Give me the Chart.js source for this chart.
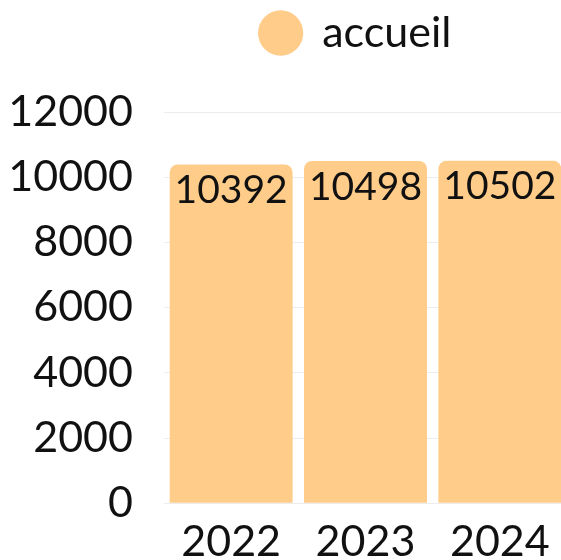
<!DOCTYPE html>
<html>
<head>
<meta charset="utf-8">
<script src="https://cdn.jsdelivr.net/npm/chart.js@4.4.1/dist/chart.umd.min.js"></script>
<style>
  html, body { margin: 0; padding: 0; background: #ffffff; overflow: hidden; }
  #wrap { width: 561px; height: 560px; overflow: hidden; position: relative; }
  canvas { display: block; }
</style>
</head>
<body>
<div id="wrap"><canvas id="c" width="712" height="560"></canvas></div>
<script>
// ---- data ----
const categories = ['2022', '2023', '2024'];
const accueilValues = [10392, 10498, 10502];
const seriesLabel = 'accueil';
const yMin = 0;
const yMax = 12000;
const yStep = 2000;

const barColor = 'rgb(255, 204, 137)';
const textColor = '#111111';
const FONT = 'Lato';
const TICK_FS = 43;
const LEGEND_FS = 43;
const LABEL_FS = 39;

const legendSpacing = {
  id: 'legendSpacing',
  beforeInit(chart) {
    const orig = chart.legend.fit;
    chart.legend.fit = function () {
      orig.call(this);
      this.height += 47.5;
    };
  }
};

const barLabels = {
  id: 'barLabels',
  afterDatasetsDraw(chart) {
    const ctx = chart.ctx;
    const meta = chart.getDatasetMeta(0);
    const values = chart.data.datasets[0].data;
    ctx.save();
    ctx.font = LABEL_FS + 'px ' + FONT;
    ctx.fillStyle = textColor;
    ctx.textAlign = 'center';
    ctx.textBaseline = 'middle';
    meta.data.forEach((bar, i) => {
      ctx.fillText(String(values[i]), bar.x, bar.y + 26);
    });
    ctx.restore();
  }
};

function draw() {
  Chart.defaults.font.family = FONT;
  Chart.defaults.font.size = TICK_FS;
  Chart.defaults.color = textColor;
  new Chart(document.getElementById('c'), {
    type: 'bar',
    data: {
      labels: categories,
      datasets: [{
        label: seriesLabel,
        data: accueilValues,
        backgroundColor: barColor,
        borderWidth: 0,
        borderRadius: { topLeft: 8, topRight: 8, bottomLeft: 0, bottomRight: 0 },
        borderSkipped: 'start',
        barPercentage: 0.915,
        categoryPercentage: 1.0
      }]
    },
    options: {
      responsive: false,
      animation: false,
      devicePixelRatio: 1,
      layout: { padding: 0 },
      plugins: {
        legend: {
          display: true,
          position: 'top',
          labels: {
            usePointStyle: true,
            pointStyle: 'circle',
            boxHeight: 32,
            padding: 11.5,
            color: textColor,
            font: { family: FONT, size: LEGEND_FS }
          }
        },
        tooltip: { enabled: false }
      },
      scales: {
        x: {
          grid: { display: false, drawTicks: false },
          border: { display: false },
          ticks: { color: textColor, font: { family: FONT, size: TICK_FS }, padding: 13 },
          afterFit(scale) { scale.height = 56; }
        },
        y: {
          min: yMin,
          max: yMax,
          ticks: {
            stepSize: yStep,
            color: textColor,
            font: { family: FONT, size: TICK_FS },
            padding: 31,
            callback: (v) => String(v)
          },
          grid: { color: 'rgba(0,0,0,0.07)', drawTicks: false },
          border: { display: false },
          afterFit(scale) { scale.width = 164; }
        },
        yRight: {
          position: 'right',
          display: true,
          min: yMin,
          max: yMax,
          grid: { display: false, drawTicks: false },
          border: { display: false },
          ticks: { display: false },
          afterFit(scale) { scale.width = 145; }
        }
      }
    },
    plugins: [legendSpacing, barLabels]
  });
}

if (document.fonts && document.fonts.load) {
  Promise.all([
    document.fonts.load(TICK_FS + 'px ' + FONT),
    document.fonts.load(LEGEND_FS + 'px ' + FONT)
  ]).then(draw, draw);
} else {
  draw();
}
</script>
</body>
</html>
